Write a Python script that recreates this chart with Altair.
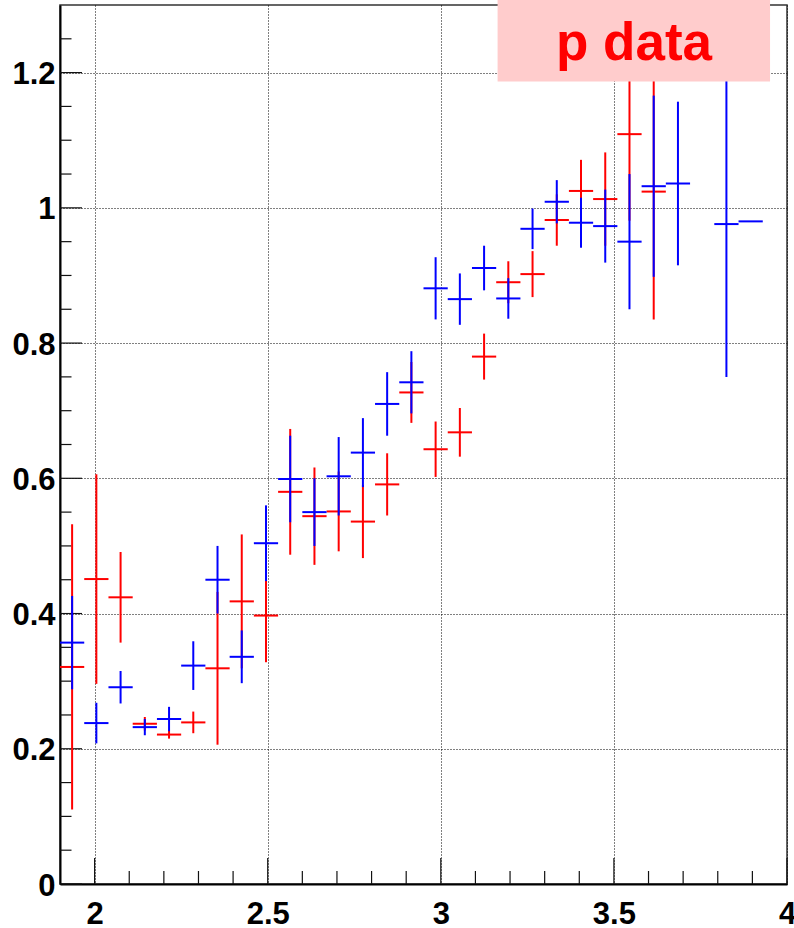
import altair as alt
import pandas as pd

# Bin layout: 30 bins of width 0.07 between 1.9 and 4.0
half_bin = 0.035

# Red series (drawn first)
red_x = [1.935, 2.005, 2.075, 2.145, 2.215, 2.285, 2.355, 2.425, 2.495, 2.565,
         2.635, 2.705, 2.775, 2.845, 2.915, 2.985, 3.055, 3.125, 3.195, 3.265,
         3.335, 3.405, 3.475, 3.545, 3.615]
red_y = [0.321, 0.451, 0.424, 0.237, 0.221, 0.239, 0.319, 0.418, 0.397, 0.580,
         0.544, 0.551, 0.536, 0.591, 0.727, 0.643, 0.668, 0.780, 0.890, 0.902,
         0.982, 1.025, 1.013, 1.109, 1.024]
red_err = [0.211, 0.155, 0.067, 0.010, 0.006, 0.016, 0.113, 0.099, 0.069, 0.093,
           0.072, 0.059, 0.054, 0.046, 0.045, 0.041, 0.036, 0.034, 0.031, 0.034,
           0.038, 0.046, 0.069, 0.128, 0.189]

# Blue series (drawn on top)
blue_x = [1.935, 2.005, 2.075, 2.145, 2.215, 2.285, 2.355, 2.425, 2.495, 2.565,
          2.635, 2.705, 2.775, 2.845, 2.915, 2.985, 3.055, 3.125, 3.195, 3.265,
          3.335, 3.405, 3.475, 3.545, 3.615, 3.685, 3.825, 3.895]
blue_y = [0.357, 0.238, 0.291, 0.232, 0.244, 0.323, 0.450, 0.336, 0.504, 0.599,
          0.550, 0.603, 0.638, 0.710, 0.742, 0.881, 0.865, 0.911, 0.866, 0.969,
          1.009, 0.978, 0.973, 0.950, 1.032, 1.036, 0.976, 0.980]
blue_err = [0.069, 0.030, 0.024, 0.012, 0.018, 0.036, 0.050, 0.039, 0.056, 0.064,
            0.050, 0.058, 0.051, 0.047, 0.046, 0.046, 0.038, 0.033, 0.030, 0.030,
            0.032, 0.037, 0.054, 0.100, 0.134, 0.121, 0.226, 0.000]

# Axis ticks
x_major = [2.0, 2.5, 3.0, 3.5, 4.0]
x_minor = [2.1, 2.2, 2.3, 2.4, 2.6, 2.7, 2.8, 2.9, 3.1, 3.2, 3.3, 3.4,
           3.6, 3.7, 3.8, 3.9]
y_major = [0.0, 0.2, 0.4, 0.6, 0.8, 1.0, 1.2]
y_minor = [0.05, 0.1, 0.15, 0.25, 0.3, 0.35, 0.45, 0.5, 0.55, 0.65, 0.7, 0.75,
           0.85, 0.9, 0.95, 1.05, 1.1, 1.15, 1.25]

# Label pave
label_text = "p data"
label_box = {"x": 3.164, "x2": 3.951, "y": 1.187, "y2": 1.3074}
label_pos = {"x": 3.558, "y": 1.2187}

W, H = 727, 879
FONT = "Liberation Sans"

x_scale = alt.Scale(domain=[1.9, 4.0], nice=False, zero=False)
y_scale = alt.Scale(domain=[0, 1.3], nice=False, zero=False)


def series_frame(xs, ys, errs):
    return pd.DataFrame({
        "x": xs,
        "x_lo": [v - half_bin for v in xs],
        "x_hi": [v + half_bin for v in xs],
        "y": ys,
        "y_lo": [a - b for a, b in zip(ys, errs)],
        "y_hi": [a + b for a, b in zip(ys, errs)],
    })


red_df = series_frame(red_x, red_y, red_err)
blue_df = series_frame(blue_x, blue_y, blue_err)

x_axis = alt.Axis(values=x_major, format="~g", grid=True, ticks=False, tickSize=0,
                  labelPadding=15, labelFont=FONT, labelFontWeight="bold",
                  labelFontSize=31, labelColor="black", domainColor="black",
                  domainWidth=2, gridColor="black", gridDash=[1, 2], gridWidth=1,
                  gridOpacity=1, title=None, labelFlush=False, labelOverlap=False)
y_axis = alt.Axis(values=y_major, format="~g", grid=True, ticks=False, tickSize=0,
                  labelPadding=5, labelOffset=2, labelFont=FONT,
                  labelFontWeight="bold", labelFontSize=31, labelColor="black",
                  domainColor="black", domainWidth=2, gridColor="black",
                  gridDash=[1, 2], gridWidth=1, gridOpacity=1, title=None,
                  labelFlush=False, labelOverlap=False)

# Empty base carrying the axes and grid
axes = alt.Chart(pd.DataFrame({"x": [1.9, 4.0], "y": [0.0, 1.3]})).mark_point(
    opacity=0).encode(
    x=alt.X("x:Q", scale=x_scale, axis=x_axis),
    y=alt.Y("y:Q", scale=y_scale, axis=y_axis),
)


def error_layers(df, color):
    vert = alt.Chart(df).mark_rule(color=color, strokeWidth=2, clip=True).encode(
        x=alt.X("x:Q", scale=x_scale),
        y=alt.Y("y_lo:Q", scale=y_scale),
        y2="y_hi:Q",
    )
    horiz = alt.Chart(df).mark_rule(color=color, strokeWidth=2, clip=True).encode(
        x=alt.X("x_lo:Q", scale=x_scale),
        x2="x_hi:Q",
        y=alt.Y("y:Q", scale=y_scale),
    )
    return [vert, horiz]


def x_ticks(values, length):
    return alt.Chart(pd.DataFrame({"t": values})).mark_rule(
        color="#111", strokeWidth=1.2).encode(
        x=alt.X("t:Q", scale=x_scale),
        y=alt.value(H),
        y2=alt.value(H - length),
    )


def y_ticks(values, length):
    return alt.Chart(pd.DataFrame({"t": values})).mark_rule(
        color="#111", strokeWidth=1.2).encode(
        y=alt.Y("t:Q", scale=y_scale),
        x=alt.value(0),
        x2=alt.value(length),
    )


box = alt.Chart(pd.DataFrame([label_box])).mark_rect(
    fill="#ffcccc", stroke=None, clip=False).encode(
    x=alt.X("x:Q", scale=x_scale),
    x2="x2:Q",
    y=alt.Y("y:Q", scale=y_scale),
    y2="y2:Q",
)
text = alt.Chart(pd.DataFrame([{**label_pos, "label": label_text}])).mark_text(
    font=FONT, fontWeight="bold", fontSize=53, color="#ff0000",
    align="center", baseline="alphabetic").encode(
    x=alt.X("x:Q", scale=x_scale),
    y=alt.Y("y:Q", scale=y_scale),
    text="label:N",
)

layers = [axes, x_ticks(x_major, 26), x_ticks(x_minor, 13),
          y_ticks(y_major, 22), y_ticks(y_minor, 11.5)]
layers += error_layers(red_df, "#ff0000")
layers += error_layers(blue_df, "#0000ff")
layers += [box, text]

chart = alt.layer(*layers).properties(
    width=W, height=H,
    padding={"left": 60, "top": 5, "right": 7, "bottom": 44},
    autosize=alt.AutoSizeParams(type="none"),
    background="white",
).configure_view(stroke="#333", strokeWidth=1.5)

chart.save("out.html", embed_options={"renderer": "svg", "actions": False})
